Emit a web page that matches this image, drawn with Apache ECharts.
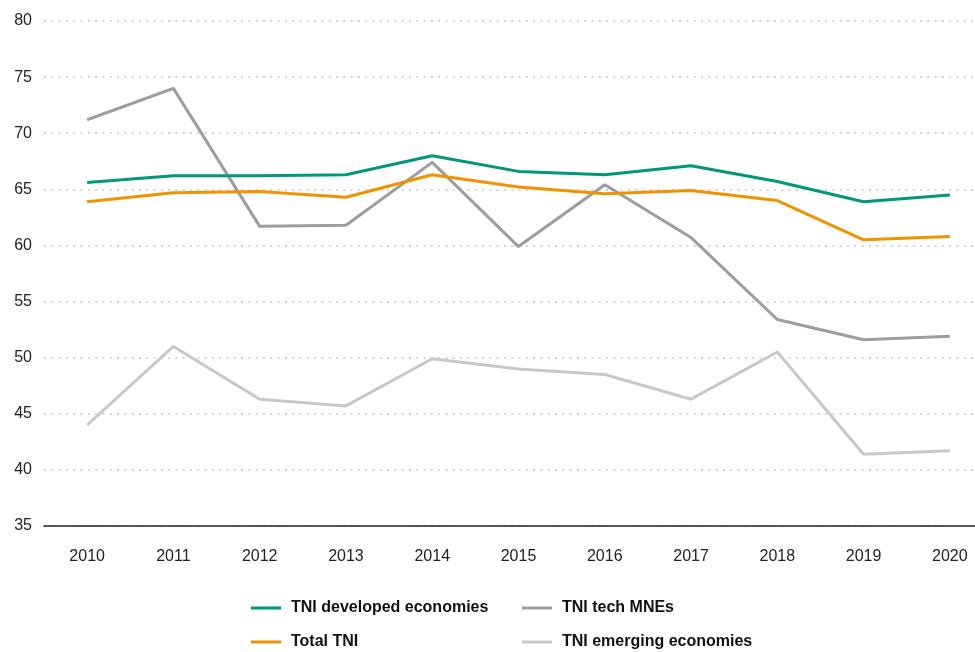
<!DOCTYPE html>
<html>
<head>
<meta charset="utf-8">
<script src="https://cdn.jsdelivr.net/npm/echarts@6/dist/echarts.min.js"></script>
<style>
  html, body { margin: 0; padding: 0; background: #fff; overflow: hidden; }
  /* the plot runs past the right edge of the page, like the original crop */
  #chart { width: 993px; height: 652px; }
</style>
</head>
<body>
<div id="chart"></div>
<script>
const years = ["2010", "2011", "2012", "2013", "2014", "2015", "2016", "2017", "2018", "2019", "2020"];
const developed = [65.6, 66.2, 66.2, 66.3, 68.0, 66.6, 66.3, 67.1, 65.7, 63.9, 64.5];
const totalTni = [63.9, 64.7, 64.8, 64.3, 66.3, 65.2, 64.6, 64.9, 64.0, 60.5, 60.8];
const techMnes = [71.2, 74.0, 61.7, 61.8, 67.4, 59.9, 65.4, 60.7, 53.4, 51.6, 51.9];
const emerging = [44.0, 51.0, 46.3, 45.7, 49.9, 49.0, 48.5, 46.3, 50.5, 41.4, 41.7];

const FONT = "'Liberation Sans', Arial, sans-serif";

const names = {
  developed: "TNI developed economies",
  total: "Total TNI",
  tech: "TNI tech MNEs",
  emerging: "TNI emerging economies",
};

function line(name, data, color) {
  return {
    name, type: "line", data,
    symbol: "none",
    color,
    lineStyle: { width: 3, color },
  };
}

// one legend per entry so the 2x2 layout stays put
function legendItem(name, left, top) {
  return {
    left, top,
    data: [name],
    itemWidth: 30,
    itemHeight: 3,
    icon: "rect",
    padding: 0,
    textStyle: {
      fontFamily: FONT, fontSize: 16, fontWeight: "bold", color: "#111",
      padding: [0, 0, 0, 5],
    },
  };
}

const chart = echarts.init(document.getElementById("chart"));
chart.setOption({
  animation: false,
  grid: { left: 44, right: 0, top: 21, bottom: 126 },
  xAxis: {
    type: "category",
    data: years,
    boundaryGap: true,
    axisTick: { show: false },
    axisLine: { lineStyle: { color: "#222", width: 1.5 } },
    axisLabel: { color: "#222", fontFamily: FONT, fontSize: 16, margin: 23 },
  },
  yAxis: {
    type: "value",
    min: 35, max: 80, interval: 5,
    axisLine: { show: false },
    axisTick: { show: false },
    axisLabel: { color: "#222", fontFamily: FONT, fontSize: 16, margin: 12, padding: [5, 0, 0, 0] },
    splitLine: { lineStyle: { color: "#d4d4d4", width: 2, type: [2, 5.3] } },
  },
  legend: [
    legendItem(names.developed, 251, 600),
    legendItem(names.total, 251, 634),
    legendItem(names.tech, 522, 600),
    legendItem(names.emerging, 522, 634),
  ],
  series: [
    line(names.emerging, emerging, "#c8c8c8"),
    line(names.tech, techMnes, "#9d9d9d"),
    line(names.total, totalTni, "#f39200"),
    line(names.developed, developed, "#00977a"),
  ],
});
</script>
</body>
</html>
